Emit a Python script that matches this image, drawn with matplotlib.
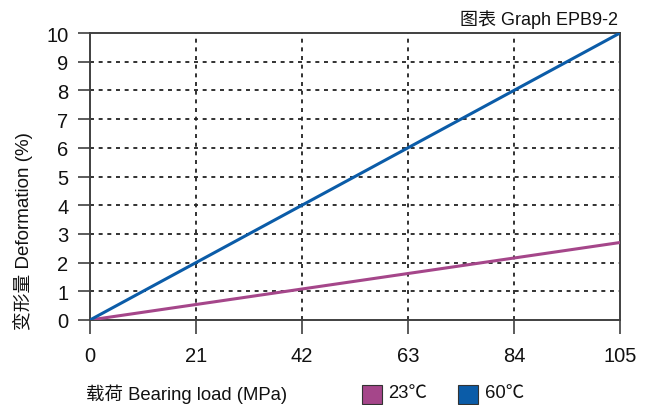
import matplotlib
matplotlib.use("Agg")
import matplotlib.pyplot as plt
from matplotlib.patches import Rectangle

plt.rcParams['font.family'] = ['Liberation Sans', 'Noto Sans CJK SC', 'DejaVu Sans']

load = [0, 105]
def_23 = [0, 2.7]
def_60 = [0, 10]
xticks = [0, 21, 42, 63, 84, 105]
yticks = list(range(0, 11))
series_labels = ["23℃", "60℃"]
colors = ["#A5468A", "#0B5CA8"]

fig = plt.figure(figsize=(6.49, 4.06), dpi=100)
ax = fig.add_axes([90/649, 1-321/406, 530/649, 287/406])

ax.plot(load, def_23, color=colors[0], lw=2.2, solid_capstyle='butt', zorder=3)
ax.plot(load, def_60, color=colors[1], lw=2.2, solid_capstyle='butt', zorder=3)

ax.set_xlim(0, 105)
ax.set_ylim(0, 10)
ax.set_xticks(xticks)
ax.set_yticks(yticks)
ax.set_xticklabels([str(t) for t in xticks], fontsize=14.5, color='#111111')
ax.set_yticklabels([str(t) for t in yticks], fontsize=14.5, color='#111111')

for s in ax.spines.values():
    s.set_color('#404040')
    s.set_linewidth(1.4)

ax.tick_params(axis='y', direction='out', length=8.5, width=1.2, color='#404040', pad=7)
ax.tick_params(axis='x', direction='out', length=10, width=1.2, color='#404040', pad=9)

for x in xticks[1:-1]:
    ax.axvline(x, color='#222222', lw=1.3, ls=(0, (2.2, 2.6)), zorder=1)
for y in yticks[1:-1]:
    ax.axhline(y, color='#222222', lw=1.3, ls=(0, (2.2, 2.6)), zorder=1)

fig.text(23/649, 1-231/406, "变形量 Deformation (%)", rotation=90, ha='center', va='center',
         fontsize=13.5, color='#111111')

fig.text(618/649, 1-20/406, "图表 Graph EPB9-2", ha='right', va='center', fontsize=13, color='#111111')
fig.text(86/649, 1-394/406, "载荷 Bearing load (MPa)", ha='left', va='center', fontsize=13.3, color='#111111')

# legend squares
fig.patches.append(Rectangle((362/649, 1-405/406), 20/649, 19/406, transform=fig.transFigure,
                             facecolor=colors[0], edgecolor='#333333', lw=0.8))
fig.text(388/649, 1-394/406, series_labels[0], ha='left', va='center', fontsize=13.3, color='#111111')
fig.patches.append(Rectangle((458/649, 1-405/406), 20/649, 19/406, transform=fig.transFigure,
                             facecolor=colors[1], edgecolor='#333333', lw=0.8))
fig.text(485/649, 1-394/406, series_labels[1], ha='left', va='center', fontsize=13.3, color='#111111')

fig.savefig("out.png", dpi=100)
